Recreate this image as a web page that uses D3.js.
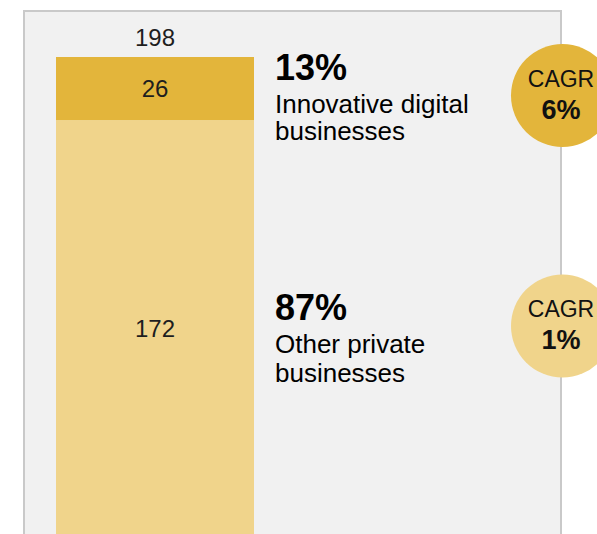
<!DOCTYPE html>
<html>
<head>
<meta charset="utf-8">
<script src="https://cdn.jsdelivr.net/npm/d3@7"></script>
<style>
  html, body { margin: 0; padding: 0; background: #ffffff; }
  svg { display: block; font-family: "Liberation Sans", Arial, Helvetica, sans-serif; }
</style>
</head>
<body>
<svg id="chart" width="597" height="534"></svg>
<script>
// Stacked composition of businesses (bottom segment first)
const segmentNames = ["Other private businesses", "Innovative digital businesses"];
const segmentValues = [172, 26];
const segmentShares = ["87%", "13%"];
const segmentLabelLines = [["Other private", "businesses"], ["Innovative digital", "businesses"]];
const cagrValues = ["1%", "6%"];
const totalLabel = "198";

const colors = ["#f0d48b", "#e3b53b"];

const svg = d3.select("#chart");

// Panel background
svg.append("rect")
  .attr("x", 24).attr("y", 11)
  .attr("width", 537).attr("height", 560)
  .attr("fill", "#f1f1f1")
  .attr("stroke", "#c9c9c9")
  .attr("stroke-width", 2);

const total = d3.sum(segmentValues);
const y = d3.scaleLinear().domain([0, total]).range([537, 57]);
const x = d3.scaleBand().domain(["total"]).range([56, 254]).padding(0);

// Stack the segments
const stacked = [];
let acc = 0;
segmentValues.forEach((v, i) => {
  stacked.push({ name: segmentNames[i], value: v, y0: acc, y1: acc + v, i });
  acc += v;
});

const bars = svg.append("g");
bars.selectAll("rect")
  .data(stacked)
  .join("rect")
  .attr("x", x("total"))
  .attr("width", x.bandwidth())
  .attr("y", d => y(d.y1))
  .attr("height", d => y(d.y0) - y(d.y1))
  .attr("fill", d => colors[d.i]);

// Value labels inside the segments
bars.selectAll("text.val")
  .data(stacked)
  .join("text")
  .attr("class", "val")
  .attr("x", x("total") + x.bandwidth() / 2)
  .attr("y", d => (y(d.y0) + y(d.y1)) / 2 + 8.6)
  .attr("text-anchor", "middle")
  .attr("font-size", 24)
  .attr("fill", "#1e1e1e")
  .text(d => d.value);

// Total above the bar
svg.append("text")
  .attr("x", x("total") + x.bandwidth() / 2)
  .attr("y", y(total) - 11)
  .attr("text-anchor", "middle")
  .attr("font-size", 24)
  .attr("fill", "#1e1e1e")
  .text(totalLabel);

// Share labels to the right of the bar
const lineGap = [29, 27];
const labels = svg.append("g");
stacked.forEach(d => {
  const mid = (y(d.y0) + y(d.y1)) / 2;
  const base = mid - 8.5;
  const t = labels.append("text").attr("fill", "#000");
  t.append("tspan")
    .attr("x", 275).attr("y", base)
    .attr("font-size", 36).attr("font-weight", "bold")
    .text(segmentShares[d.i]);
  segmentLabelLines[d.i].forEach((line, k) => {
    t.append("tspan")
      .attr("x", 275)
      .attr("y", base + 33 + k * lineGap[d.i])
      .attr("font-size", 26)
      .text(line);
  });
});

// CAGR badges
const badgeDy = [-2.5, 7];
const badges = svg.append("g");
stacked.forEach(d => {
  const cy = (y(d.y0) + y(d.y1)) / 2 + badgeDy[d.i];
  const g = badges.append("g").attr("transform", `translate(562.5,${cy})`);
  g.append("circle").attr("r", 51.5).attr("fill", colors[d.i]);
  g.append("text")
    .attr("x", -1.5).attr("y", -9)
    .attr("text-anchor", "middle")
    .attr("font-size", 23)
    .attr("fill", "#111")
    .text("CAGR");
  g.append("text")
    .attr("x", -1.5).attr("y", 23.3)
    .attr("text-anchor", "middle")
    .attr("font-size", 27)
    .attr("font-weight", "bold")
    .attr("fill", "#111")
    .text(cagrValues[d.i]);
});
</script>
</body>
</html>
